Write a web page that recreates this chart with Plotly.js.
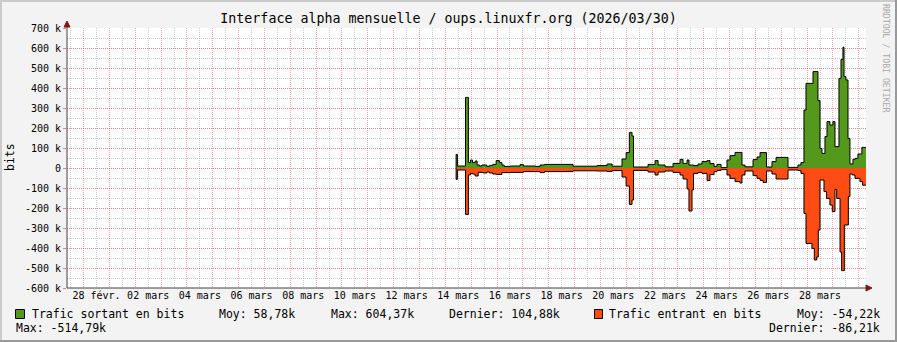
<!DOCTYPE html>
<html><head><meta charset="utf-8">
<script src="https://cdn.plot.ly/plotly-3.0.1.min.js"></script>
<style>html,body{margin:0;padding:0;background:#f3f3f3;}#chart{width:897px;height:342px;}</style>
</head><body><div id="chart"></div>
<script>
// time of each step start, in hours since 2026-03-14 00:00
const outHours = [10.0,10.0,11.2,18.7,21.4,23.3,25.2,27.7,29.5,31.7,33.9,38.5,40.9,44.1,47.2,50.2,52.5,54.6,60.2,69.4,72.5,84.0,88.0,92.0,118.6,140.9,150.2,154.9,164.1,167.9,170.9,173.4,174.8,188.3,194.8,197.6,204.1,211.5,218.0,220.8,224.5,226.3,230.5,234.7,238.4,243.1,245.8,249.6,252.3,256.1,261.6,264.4,269.1,275.5,278.3,285.8,289.5,292.3,298.3,303.4,307.2,318.3,327.5,330.3,333.1,335.0,341.5,346.1,348.0,349.8,352.6,354.5,357.2,360.0,361.9,365.6,367.5,369.3,370.3,372.1,374.0,375.8,378.6,380.5,383.2,386.9,390.7];
// outgoing traffic, kbit/s
const outValues = [0,68,10,353,27,40,27,35,15,10,15,8,13,18,37,27,15,8,10,17,10,8,15,18,9,12,20,9,45,77,178,160,5,18,37,15,6,23,43,23,40,15,12,20,32,37,22,8,18,2,40,62,78,15,6,42,55,77,5,32,53,3,15,27,290,423,482,337,98,73,157,232,215,232,107,448,543,604,457,440,148,20,43,48,70,103,105];
const inHours = [10.0,10.0,11.2,18.7,21.4,23.3,25.2,27.7,30.5,35.3,38.5,40.9,44.1,47.2,52.5,60.2,72.5,88.0,92.0,118.6,140.9,150.2,154.9,164.1,167.9,170.9,173.4,174.8,188.3,194.8,197.6,204.1,211.5,218.0,220.8,224.5,226.3,229.1,230.5,234.7,238.4,243.1,245.8,249.6,252.3,256.1,261.6,264.4,269.1,273.6,275.5,278.3,285.8,289.5,292.3,295.1,298.3,303.4,307.2,318.3,327.5,330.3,333.1,335.0,340.5,342.7,344.9,346.4,348.0,351.7,354.1,357.2,359.4,361.9,363.5,366.6,368.1,370.6,374.3,375.8,378.0,380.5,385.1,387.5,390.7];
// incoming traffic (drawn negative), kbit/s
const inValues = [0,-57,-10,-232,-35,-27,-30,-40,-22,-25,-20,-25,-30,-32,-23,-22,-18,-23,-18,-14,-15,-17,-13,-45,-90,-182,-160,-12,-20,-35,-20,-15,-22,-35,-55,-105,-215,-110,-27,-22,-27,-63,-33,-18,-12,-8,-35,-52,-68,-75,-35,-15,-38,-52,-62,-72,-15,-30,-55,-10,-13,-27,-227,-377,-402,-460,-445,-310,-60,-118,-152,-185,-218,-107,-152,-420,-513,-285,-143,-30,-35,-52,-68,-86,-86];

const xTickDates = ['2026-02-28 12:00','2026-03-02 12:00','2026-03-04 12:00','2026-03-06 12:00','2026-03-08 12:00','2026-03-10 12:00','2026-03-12 12:00','2026-03-14 12:00','2026-03-16 12:00','2026-03-18 12:00','2026-03-20 12:00','2026-03-22 12:00','2026-03-24 12:00','2026-03-26 12:00','2026-03-28 12:00'];
const xTickLabels = ['28 févr.','02 mars','04 mars','06 mars','08 mars','10 mars','12 mars','14 mars','16 mars','18 mars','20 mars','22 mars','24 mars','26 mars','28 mars'];
const yTickValues = [700000,600000,500000,400000,300000,200000,100000,0,-100000,-200000,-300000,-400000,-500000,-600000];
const yTickLabels = ['700 k','600 k','500 k','400 k','300 k','200 k','100 k','0','-100 k','-200 k','-300 k','-400 k','-500 k','-600 k'];

const titleText = 'Interface alpha mensuelle / oups.linuxfr.org (2026/03/30)';
const seriesNames = ['Trafic sortant en bits','Trafic entrant en bits'];
const outStats = ['Moy: 58,78k','Max: 604,37k','Dernier: 104,88k'];
const inStats = ['Moy: -54,22k','Max: -514,79k','Dernier: -86,21k'];

const GREEN = '#54981c', ORANGE = '#ff4c14';
const base = Date.UTC(2026,2,14);
const toDate = h => new Date(base + h*3600000).toISOString().replace('T',' ').replace('Z','');
const xRange = ['2026-02-27 08:35','2026-03-30 06:43'];

// pixel -> paper helpers (plot area: x 67..866, y 28..288)
const PX = px => (px-67)/799, PY = py => (288-py)/260;
const FONT = 'DejaVu Sans Mono';

const traces = [
  {x: outHours.map(toDate), y: outValues.map(v=>v*1000), type:'scatter', mode:'lines',
   line:{shape:'hv', color:'#000', width:1}, fill:'tozeroy', fillcolor:GREEN, hoverinfo:'skip', showlegend:false},
  {x: inHours.map(toDate), y: inValues.map(v=>v*1000), type:'scatter', mode:'lines',
   line:{shape:'hv', color:'#000', width:1}, fill:'tozeroy', fillcolor:ORANGE, hoverinfo:'skip', showlegend:false},
  {x: [xRange[0]], y: [0], xaxis:'x2', type:'scatter', mode:'lines', line:{width:0}, hoverinfo:'skip', showlegend:false}
];

const txt = (text, px, py, anchor, size, extra) => Object.assign({
  text, x: PX(px), y: PY(py), xref:'paper', yref:'paper', xanchor: anchor, yanchor:'middle',
  showarrow:false, borderpad:0, font:{family:FONT, size:size, color:'#000'}}, extra||{});

const annotations = [
  txt(seriesNames[0], 30.5, 314, 'left', 11.5),
  txt(outStats[0], 218, 314, 'left', 11.5),
  txt(outStats[1], 330, 314, 'left', 11.5),
  txt(outStats[2], 448, 314, 'left', 11.5),
  txt(seriesNames[1], 608, 314, 'left', 11.5),
  txt(inStats[0], 881, 314, 'right', 11.5),
  txt(inStats[1], 15.5, 328, 'left', 11.5),
  txt(inStats[2], 881, 328, 'right', 11.5),
  txt('bits', 10, 157, 'center', 11.5, {textangle:-90}),
  txt('RRDTOOL / TOBI OETIKER', 886, 58, 'center', 8.2, {textangle:90, font:{family:FONT, size:8.2, color:'#aaaaaa'}})
];

const shapes = [
  // frame
  {type:'rect', xref:'paper', yref:'paper', x0:PX(0), x1:PX(897), y0:PY(0), y1:PY(2), fillcolor:'#cbcbcb', line:{width:0}},
  {type:'rect', xref:'paper', yref:'paper', x0:PX(0), x1:PX(2), y0:PY(0), y1:PY(342), fillcolor:'#cbcbcb', line:{width:0}},
  {type:'rect', xref:'paper', yref:'paper', x0:PX(0), x1:PX(897), y0:PY(340), y1:PY(342), fillcolor:'#999999', line:{width:0}},
  {type:'rect', xref:'paper', yref:'paper', x0:PX(895), x1:PX(897), y0:PY(0), y1:PY(342), fillcolor:'#999999', line:{width:0}},
  // axis arrows
  {type:'line', xref:'paper', yref:'paper', x0:PX(67), x1:PX(67), y0:PY(288), y1:PY(24), line:{color:'#404040', width:1}},
  {type:'line', xref:'paper', yref:'paper', x0:PX(67), x1:PX(868), y0:PY(288), y1:PY(288), line:{color:'#404040', width:1}},
  {type:'path', xref:'paper', yref:'paper', path:`M${PX(64)},${PY(27)} L${PX(67)},${PY(21)} L${PX(70)},${PY(27)} Z`, fillcolor:'#7f1818', line:{color:'#7f1818', width:1}},
  {type:'path', xref:'paper', yref:'paper', path:`M${PX(866)},${PY(285)} L${PX(872)},${PY(288)} L${PX(866)},${PY(291)} Z`, fillcolor:'#7f1818', line:{color:'#7f1818', width:1}},
  // legend swatches
  {type:'rect', xref:'paper', yref:'paper', x0:PX(15.5), x1:PX(24.5), y0:PY(309.5), y1:PY(318.5), fillcolor:GREEN, line:{color:'#000', width:1}},
  {type:'rect', xref:'paper', yref:'paper', x0:PX(594.5), x1:PX(602.5), y0:PY(309.5), y1:PY(318.5), fillcolor:ORANGE, line:{color:'#000', width:1}}
];

const MGRID = 'rgba(255,0,0,0.35)', GRID = 'rgba(128,128,128,0.4)', DASH = '1px,1px';
const layout = {
  width: 897, height: 342,
  margin: {l:67, r:31, t:28, b:54, pad:0},
  paper_bgcolor:'#f3f3f3', plot_bgcolor:'#ffffff',
  font: {family: FONT, size: 10, color:'#000'},
  title: {text: titleText, x:0.5, xref:'container', xanchor:'center', y:1-18/342, yref:'container', yanchor:'middle',
          font:{family:FONT, size:13.3, color:'#000'}},
  showlegend:false,
  xaxis: {type:'date', range: xRange, tickmode:'linear', tick0:'2026-02-28 00:00', dtick:86400000,
          showticklabels:false, ticks:'', showgrid:true, gridcolor:MGRID, griddash:DASH, gridwidth:1,
          zeroline:false, showline:false,
          minor:{tickmode:'linear', tick0:'2026-02-28 00:00', dtick:43200000, showgrid:true, gridcolor:GRID, griddash:DASH, ticks:''}},
  xaxis2: {type:'date', range: xRange, overlaying:'x', anchor:'y', side:'bottom', tickmode:'array',
           tickvals: xTickDates, ticktext: xTickLabels, showgrid:false, ticks:'', zeroline:false, showline:false,
           tickfont:{family:FONT, size:10, color:'#000'}},
  yaxis: {range:[-600000,700000], tickmode:'array', tickvals:yTickValues, ticktext:yTickLabels,
          showgrid:true, gridcolor:MGRID, griddash:DASH, zeroline:false, showline:false,
          ticks:'outside', ticklen:3, tickcolor:'rgba(255,0,0,0.5)',
          tickfont:{family:FONT, size:10, color:'#000'},
          minor:{tickmode:'linear', tick0:0, dtick:50000, showgrid:true, gridcolor:GRID, griddash:DASH, ticks:''}},
  annotations, shapes
};
Plotly.newPlot('chart', traces, layout, {staticPlot:true, displayModeBar:false});
</script></body></html>
